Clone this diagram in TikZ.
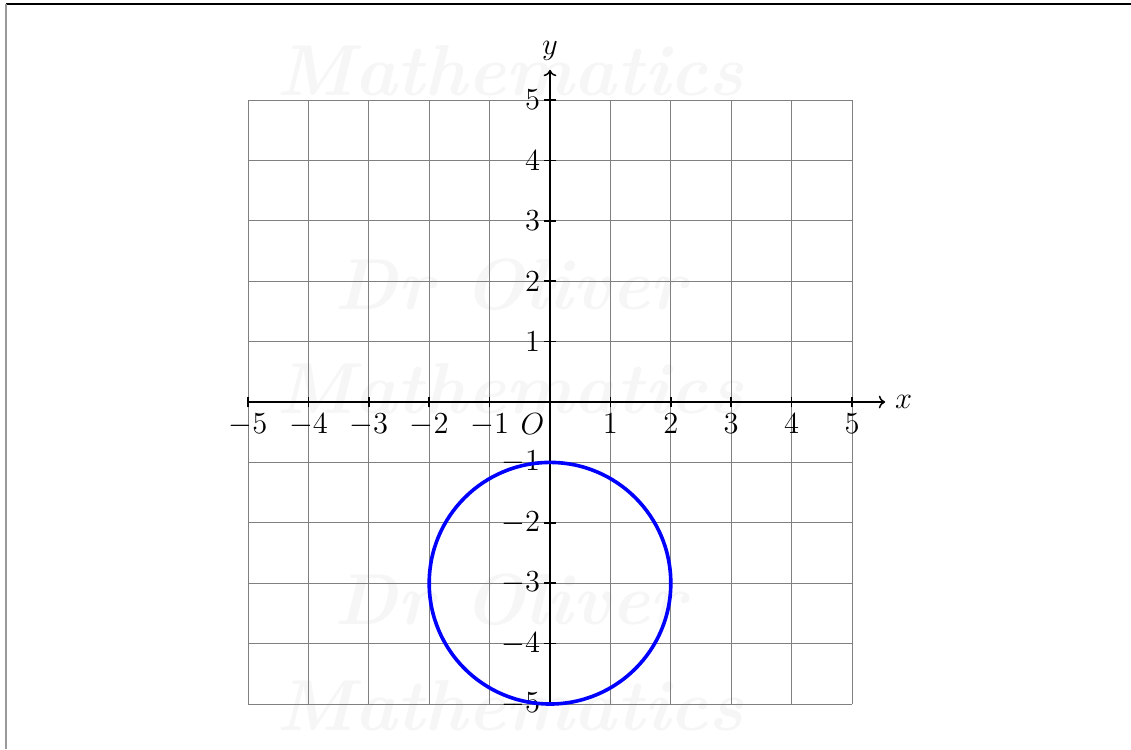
\documentclass[tikz,border=0pt]{standalone}
\usetikzlibrary{arrows.meta}
\begin{document}
\begin{tikzpicture}[x=1cm,y=1cm,
  gridline/.style={gray, line width=0.4pt},
  axisline/.style={black, line width=0.7pt, -{To[length=3pt,width=6pt]}},
  tickline/.style={black, line width=0.8pt},
  ticklabel/.style={font=\fontsize{15}{17}\selectfont, inner sep=3pt},
  curve/.style={blue, line width=1.7pt},
  wmark/.style={text=gray!7, font=\fontsize{34}{38}\selectfont\bfseries\itshape},
  framel/.style={line width=0.9pt}]
\useasboundingbox (-9.106,-5.745) rectangle (9.619,6.656);
% frame
\draw[framel, black] (-9.0,6.59) -- (9.619,6.59);
\draw[framel, gray!80] (-9.0,6.59) -- (-9.0,-5.745);
% watermark
\node[wmark] (wm1) at (-0.66,5.49) {Mathematics};
\node[wmark] (wm2) at (-0.66,1.94) {Dr Oliver};
\node[wmark] (wm3) at (-0.66,0.22) {Mathematics};
\node[wmark] (wm4) at (-0.66,-3.28) {Dr Oliver};
\node[wmark] (wm5) at (-0.66,-5.02) {Mathematics};
% grid
\draw[gridline] (-5,-5) grid (5,5);
% axes
\coordinate (xs) at (-5,0);
\coordinate (xe) at (5.55,0);
\coordinate (ys) at (0,-5);
\coordinate (ye) at (0,5.5);
\draw[axisline] (xs) -- (xe);
\draw[axisline] (ys) -- (ye);
\node[ticklabel, anchor=west] (xl) at (5.6,0) {$x$};
\node[ticklabel, anchor=south] (yl) at (0,5.55) {$y$};
% ticks
\foreach \i in {-5,...,-1,1,2,3,4,5} {
  \draw[tickline] (\i,-0.09) -- (\i,0.09);
  \draw[tickline] (-0.1,\i) -- (0.1,\i);
  \node[ticklabel, anchor=north] (xt\i) at (\i,-0.08) {$\i$};
  \node[ticklabel, anchor=east] (yt\i) at (-0.05,\i) {$\i$};
}
\node[ticklabel, anchor=north east] (O) at (0.02,-0.08) {$O$};
% circle
\draw[curve] (0,-3) circle (2);
\end{tikzpicture}
\end{document}
